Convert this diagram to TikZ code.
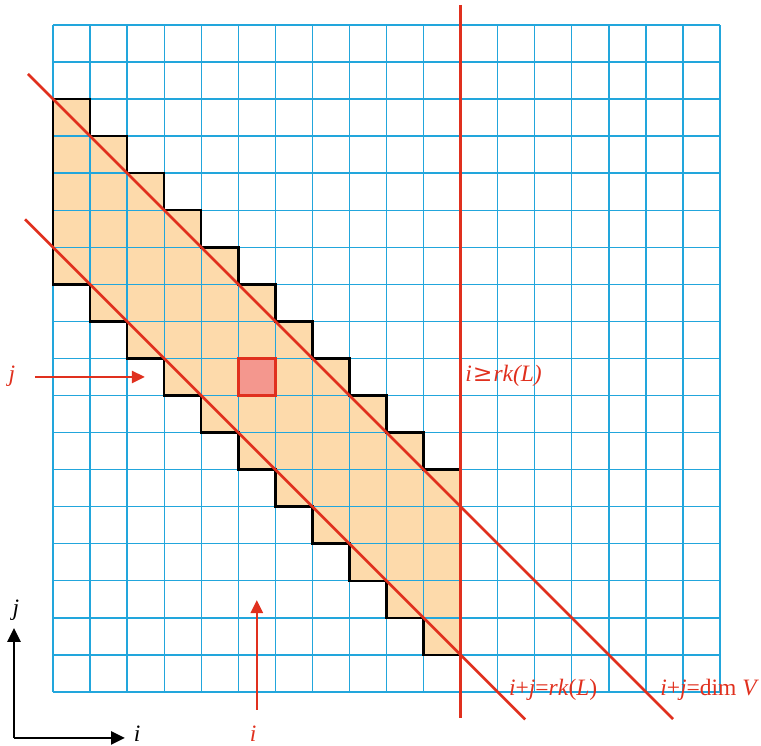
\documentclass[tikz,border=0pt]{standalone}
\usepackage{fontspec}
\setmainfont{Liberation Serif}
\newfontfamily\symfont{DejaVu Serif}
\usetikzlibrary{arrows.meta}
\definecolor{gridc}{HTML}{22A6DC}
\definecolor{peach}{HTML}{FDDAAB}
\definecolor{redc}{HTML}{E0301E}
\definecolor{cellc}{HTML}{F4978E}
\tikzset{
  gridline/.style={draw=gridc, line width=1.3pt},
  stairline/.style={draw=black, line width=2.5pt, line join=miter},
  redline/.style={draw=redc, line width=2.5pt},
  redarrow/.style={draw=redc, line width=2.5pt, -{Triangle[length=13pt,width=12pt]}, color=redc},
  axisarrow/.style={draw=black, line width=2.6pt, -{Triangle[length=14pt,width=13pt]}},
  redlabel/.style={text=redc, font=\fontsize{23.5}{24}\selectfont, inner sep=0pt},
  blacklabel/.style={text=black, font=\fontsize{23.5}{24}\selectfont, inner sep=0pt}
}
\begin{document}
\begin{tikzpicture}[x=37.06pt,y=37.06pt]
\useasboundingbox (-1.430,-1.457) rectangle (19.104,18.672);
% staircase fill
\path[fill=peach] (0,16) -- (1,16) -- (1,15) -- (2,15) -- (2,14) -- (3,14) -- (3,13) -- (4,13) -- (4,12) -- (5,12) -- (5,11) -- (6,11) -- (6,10) -- (7,10) -- (7,9) -- (8,9) -- (8,8) -- (9,8) -- (9,7) -- (10,7) -- (10,6) -- (11,6) -- (11,1) -- (10,1) -- (10,2) -- (9,2) -- (9,3) -- (8,3) -- (8,4) -- (7,4) -- (7,5) -- (6,5) -- (6,6) -- (5,6) -- (5,7) -- (4,7) -- (4,8) -- (3,8) -- (3,9) -- (2,9) -- (2,10) -- (1,10) -- (1,11) -- (0,11) -- cycle;
% grid
\foreach \k in {0,...,18} {
  \draw[gridline] (\k,0) -- (\k,18);
  \draw[gridline] (0,\k) -- (18,\k);
}
% staircase outline
\draw[stairline] (0,16) -- (1,16) -- (1,15) -- (2,15) -- (2,14) -- (3,14) -- (3,13) -- (4,13) -- (4,12) -- (5,12) -- (5,11) -- (6,11) -- (6,10) -- (7,10) -- (7,9) -- (8,9) -- (8,8) -- (9,8) -- (9,7) -- (10,7) -- (10,6) -- (11,6) -- (11,1) -- (10,1) -- (10,2) -- (9,2) -- (9,3) -- (8,3) -- (8,4) -- (7,4) -- (7,5) -- (6,5) -- (6,6) -- (5,6) -- (5,7) -- (4,7) -- (4,8) -- (3,8) -- (3,9) -- (2,9) -- (2,10) -- (1,10) -- (1,11) -- (0,11) -- cycle;
% highlighted cell
\draw[fill=cellc, draw=redc, line width=2.5pt] (5,8) rectangle (6,9);
% red lines
\coordinate (dimA) at (-0.675,16.675);
\coordinate (dimB) at (16.73,-0.73);
\coordinate (rkA) at (-0.755,12.755);
\coordinate (rkB) at (12.74,-0.74);
\coordinate (vA) at (11,18.54);
\coordinate (vB) at (11,-0.70);
\draw[redline] (dimA) -- (dimB);
\draw[redline] (rkA) -- (rkB);
\draw[redline] (vA) -- (vB);
% red arrows
\coordinate (jA) at (-0.486,8.5);
\coordinate (jB) at (2.48,8.5);
\coordinate (iA) at (5.5,-0.486);
\coordinate (iB) at (5.5,2.48);
\draw[redarrow] (jA) -- (jB);
\draw[redarrow] (iA) -- (iB);
\node[redlabel] (jlab) at (-1.11,8.53) {\itshape j};
\node[redlabel, anchor=base] (ilab) at (5.4,-1.34) {\itshape i};
% axes
\coordinate (O) at (-1.052,-1.24);
\coordinate (Ytip) at (-1.052,1.73);
\coordinate (Xtip) at (1.943,-1.24);
\draw[axisarrow] (O) -- (Ytip);
\draw[axisarrow] (O) -- (Xtip);
\node[blacklabel] (jax) at (-1.0,2.2) {\itshape j};
\node[blacklabel, anchor=base] (iax) at (2.27,-1.34) {\itshape i};
% labels
\node[redlabel, anchor=west] (geq) at (11.12,8.53) {\itshape i\kern1pt{\symfont\upshape ≥}\kern1pt rk(L)};
\node[redlabel, anchor=west] (rklab) at (12.3,0.05) {\textit{i}+\textit{j}=\textit{rk}(\textit{L})};
\node[redlabel, anchor=west] (dimlab) at (16.38,0.05) {\textit{i}+\textit{j}=dim \textit{V}};
\end{tikzpicture}
\end{document}
